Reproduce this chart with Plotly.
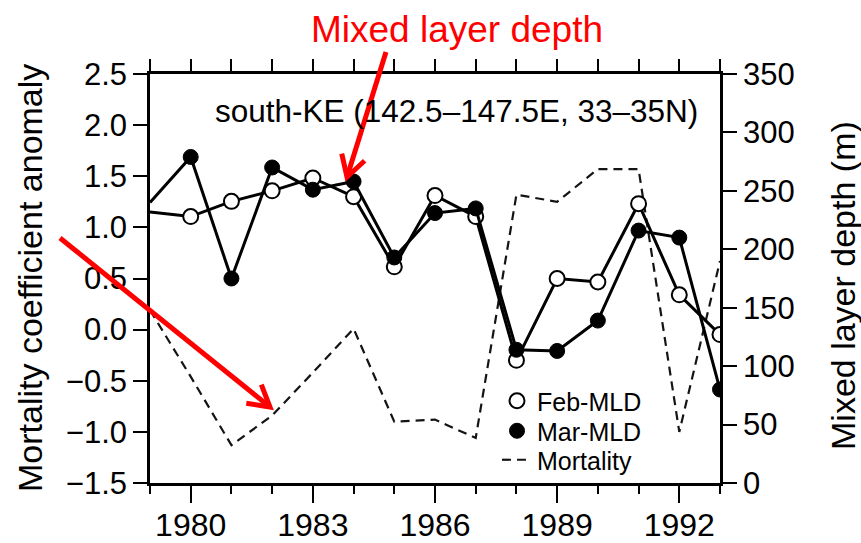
import math
import plotly.graph_objects as go

# ---------------- data ----------------
years = [1979, 1980, 1981, 1982, 1983, 1984, 1985, 1986, 1987, 1988, 1989, 1990, 1991, 1992, 1993]
feb_mld = [232, 228, 241, 250, 261, 245, 185, 246, 228, 105, 175, 172, 239, 161, 127]
mar_mld = [240, 279, 175, 270, 251, 258, 193, 231, 235, 114, 113, 139, 216, 210, 80]
mortality = [0.19, -0.46, -1.13, -0.84, -0.42, 0.01, -0.90, -0.88, -1.06, 1.32, 1.25, 1.57, 1.57, -1.00, 0.67]

x_ticks = [1980, 1983, 1986, 1989, 1992]
left_ticks = [-1.5, -1.0, -0.5, 0.0, 0.5, 1.0, 1.5, 2.0, 2.5]
right_ticks = [0, 50, 100, 150, 200, 250, 300, 350]

title_text = "south-KE (142.5\u2013147.5E, 33\u201335N)"
red_label = "Mixed layer depth"
left_title = "Mortality coefficient anomaly"
right_title = "Mixed layer depth (m)"

# ---------------- layout helpers ----------------
W, H = 861, 543
L, R, T, B = 150, 720, 74, 483
FONT = "Liberation Sans, Arial, Helvetica, sans-serif"


def px(x):
    return (x - L) / (R - L)


def py(y):
    return (B - y) / (B - T)


marker_sizes = [0] + [15] * (len(years) - 1)

fig = go.Figure()

# mortality (left axis), drawn first so it sits under the MLD curves
fig.add_trace(go.Scatter(
    x=years, y=mortality, mode="lines", name="Mortality",
    line=dict(color="#141414", width=2.2, dash="9px,6px"),
    xaxis="x", yaxis="y", showlegend=True, legend="legend3", cliponaxis=True,
))

# Feb-MLD (right axis)
fig.add_trace(go.Scatter(
    x=years, y=feb_mld, mode="lines+markers", name="Feb-MLD",
    line=dict(color="black", width=3),
    marker=dict(symbol="circle", size=marker_sizes, color="white", opacity=1,
                line=dict(color="black", width=2)),
    xaxis="x", yaxis="y2", showlegend=False, cliponaxis=True,
))
# Mar-MLD (right axis)
fig.add_trace(go.Scatter(
    x=years, y=mar_mld, mode="lines+markers", name="Mar-MLD",
    line=dict(color="black", width=3),
    marker=dict(symbol="circle", size=marker_sizes, color="black", opacity=1,
                line=dict(color="black", width=1)),
    xaxis="x", yaxis="y2", showlegend=False, cliponaxis=True,
))

# legend-only entries (marker only)
fig.add_trace(go.Scatter(
    x=[None], y=[None], mode="markers", name="Feb-MLD",
    marker=dict(symbol="circle", size=15, color="white", line=dict(color="black", width=2)),
    xaxis="x", yaxis="y2", legend="legend",
))
fig.add_trace(go.Scatter(
    x=[None], y=[None], mode="markers", name="Mar-MLD",
    marker=dict(symbol="circle", size=15, color="black", line=dict(color="black", width=1)),
    xaxis="x", yaxis="y2", legend="legend2",
))

# dummy trace to activate the top axis
fig.add_trace(go.Scatter(x=[None], y=[None], xaxis="x3", yaxis="y",
                         showlegend=False, hoverinfo="skip"))

axis_common = dict(showgrid=False, zeroline=False, showline=True, linecolor="black",
                   linewidth=2.5, tickcolor="black", tickwidth=2, ticks="outside",
                   automargin=False)

legend_common = dict(xanchor="left", yanchor="middle", bgcolor="rgba(0,0,0,0)",
                     font=dict(size=25, family=FONT, color="black"), itemsizing="trace")

fig.update_layout(
    width=W, height=H, autosize=False,
    margin=dict(l=L, r=W - R, t=T, b=H - B, pad=0, autoexpand=False),
    paper_bgcolor="white", plot_bgcolor="white",
    font=dict(family=FONT, color="black", size=30),
    xaxis=dict(range=[1979, 1993], tickmode="array", tickvals=x_ticks,
               ticktext=[str(v) for v in x_ticks], ticklen=17,
               tickfont=dict(size=32), ticklabelstandoff=-5,
               minor=dict(tickmode="linear", tick0=1979, dtick=1, ticks="outside",
                          ticklen=8, tickwidth=2, tickcolor="black", showgrid=False),
               **axis_common),
    xaxis3=dict(range=[1979, 1993], overlaying="x", side="top", tickmode="linear",
                tick0=1979, dtick=1, ticklen=12, showticklabels=False, **axis_common),
    yaxis=dict(range=[-1.5, 2.5], tickmode="array", tickvals=left_ticks,
               ticktext=[("\u2212" if v < 0 else "") + f"{abs(v):.1f}" for v in left_ticks],
               ticklen=14, tickfont=dict(size=31), **axis_common),
    yaxis2=dict(range=[0, 350], overlaying="y", side="right", tickmode="array",
                tickvals=right_ticks, ticktext=[str(v) for v in right_ticks],
                ticklen=14, tickfont=dict(size=31), **axis_common),
    legend=dict(x=px(497), y=py(401), **legend_common),
    legend2=dict(x=px(497), y=py(431), **legend_common),
    legend3=dict(x=px(497), y=py(460), **legend_common),
    showlegend=True,
)

annotations = [
    dict(text=red_label, x=px(457), y=py(30), xref="paper", yref="paper",
         xanchor="center", yanchor="middle", showarrow=False,
         font=dict(size=37, color="#ff0000", family=FONT)),
    dict(text=title_text, x=px(456), y=py(111), xref="paper", yref="paper",
         xanchor="center", yanchor="middle", showarrow=False,
         font=dict(size=31.5, color="black", family=FONT)),
    dict(text=left_title, x=px(30), y=py(278), xref="paper", yref="paper",
         xanchor="center", yanchor="middle", showarrow=False, textangle=-90,
         font=dict(size=34, color="black", family=FONT)),
    dict(text=right_title, x=px(843), y=py(286), xref="paper", yref="paper",
         xanchor="center", yanchor="middle", showarrow=False, textangle=-90,
         font=dict(size=34, color="black", family=FONT)),
]
fig.update_layout(annotations=annotations)


# red arrows (decoration) with open chevron heads
def arrow_shapes(tail, tip, arm=24, ang=30, color="#ff0000", width=5):
    dx, dy = tail[0] - tip[0], tail[1] - tip[1]
    n = math.hypot(dx, dy)
    bx, by = dx / n, dy / n
    a = math.radians(ang)
    arms = []
    for s in (1, -1):
        rx = math.cos(a) * bx - s * math.sin(a) * by
        ry = s * math.sin(a) * bx + math.cos(a) * by
        arms.append((tip[0] + arm * rx, tip[1] + arm * ry))
    shaft = dict(type="line", xref="paper", yref="paper",
                 x0=px(tail[0]), y0=py(tail[1]), x1=px(tip[0]), y1=py(tip[1]),
                 line=dict(color=color, width=width))
    head = dict(type="path", xref="paper", yref="paper",
                path=f"M {px(arms[0][0])},{py(arms[0][1])} L {px(tip[0])},{py(tip[1])} "
                     f"L {px(arms[1][0])},{py(arms[1][1])}",
                line=dict(color=color, width=width))
    return [shaft, head]


shapes = arrow_shapes((386, 52), (347, 177)) + arrow_shapes((60, 238), (270, 407))
fig.update_layout(shapes=shapes)

fig.write_html("out.html")
